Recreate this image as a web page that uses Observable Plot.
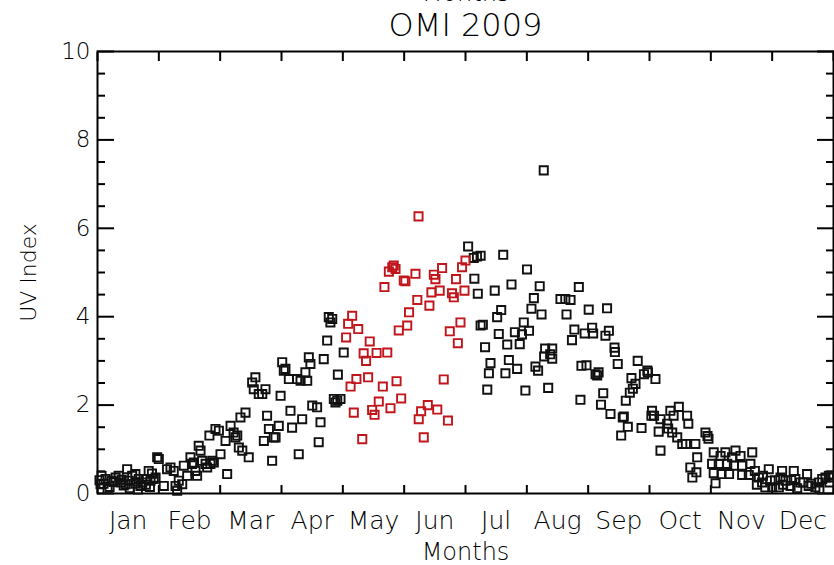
<!DOCTYPE html>
<html>
<head>
<meta charset="utf-8">
<script src="https://cdn.jsdelivr.net/npm/d3@7"></script>
<script src="https://cdn.jsdelivr.net/npm/@observablehq/plot@0.6"></script>
<style>
  html, body { margin: 0; padding: 0; background: #fff; }
  #chart svg { display: block; }
</style>
</head>
<body>
<div id="chart"></div>
<script>
// Daily OMI UV index for 2009: [day of year, UV index]
const months = ["Jan", "Feb", "Mar", "Apr", "May", "Jun", "Jul", "Aug", "Sep", "Oct", "Nov", "Dec"];
const yMajorTicks = [0, 2, 4, 6, 8, 10];
const yMinorTicks = [0.5, 1, 1.5, 2.5, 3, 3.5, 4.5, 5, 5.5, 6.5, 7, 7.5, 8.5, 9, 9.5];

// Days outside the May–June window (drawn in black)
const uvOther = [
  [1, 0.30], [1.5, 0.21], [2, 0.40], [3, 0.22], [4, 0.33], [5, 0.10], [6, 0.15], [7, 0.29], [8, 0.26],
  [9, 0.36], [10.5, 0.40], [11.4, 0.25], [12, 0.31], [13, 0.18], [14, 0.21], [14.7, 0.55], [15.5, 0.29],
  [16, 0.12], [17.2, 0.40], [18.8, 0.44], [19, 0.22], [20, 0.09], [20.5, 0.33], [21.3, 0.17], [22.2, 0.25],
  [23.8, 0.33], [24, 0.20], [25.4, 0.51], [26, 0.15], [26.3, 0.29], [27, 0.45], [27.9, 0.33], [28.8, 0.36],
  [29.6, 0.82], [30.4, 0.78],
  [32.9, 0.17], [34.5, 0.55], [36.2, 0.59], [37.8, 0.51], [38.7, 0.17], [39.5, 0.06], [40.3, 0.29],
  [42, 0.21], [42.8, 0.63], [44.5, 0.40], [46.1, 0.82], [46.9, 0.67], [47.8, 0.70], [48.6, 0.51],
  [49.4, 0.40], [50.2, 1.08], [51.1, 0.97], [51.9, 0.74], [53.6, 0.67], [54.4, 0.59], [55.5, 1.31],
  [56, 0.67], [56.9, 0.74], [57.7, 0.70], [58.5, 1.46], [60.2, 1.42], [61, 0.89], [63.5, 1.19],
  [64.3, 0.44], [66, 1.53], [67.5, 1.38], [68.4, 1.27], [69.3, 1.31], [70.1, 1.04], [70.9, 1.72],
  [71.8, 0.97], [73.4, 1.83], [75, 0.82], [76.7, 2.51], [77.5, 2.36], [78.3, 2.63], [80, 2.25],
  [81.7, 2.25], [82.5, 1.19], [83.3, 2.36], [84.1, 1.76], [85, 1.46], [86.6, 0.74], [87.4, 1.27],
  [88.3, 1.27], [89.9, 1.53], [90.8, 2.21], [91.6, 2.97], [92.4, 2.78],
  [93.2, 2.82], [94.9, 2.59], [95.7, 1.87], [96.5, 1.49], [99, 2.59], [99.8, 0.89], [100.7, 2.55],
  [101.5, 1.68], [103.1, 2.74], [104, 2.55], [104.8, 3.08], [105.6, 2.93], [106.5, 1.99], [108.9, 1.95],
  [109.7, 1.16], [110.6, 1.61], [112.2, 3.04], [113.9, 3.46], [114.7, 3.99], [115.5, 3.87], [116.4, 3.95],
  [117.2, 2.14], [118, 2.06], [118.9, 2.10], [119.2, 2.69], [120.5, 2.14], [122.1, 3.19],
  [183.8, 5.59], [186.6, 5.33], [188.2, 5.36], [190, 5.38], [186.9, 4.86], [188.6, 4.52], [190, 3.80],
  [191.1, 3.82], [192.2, 3.31], [193.3, 2.35], [194.1, 2.72], [194.9, 2.95], [197, 4.59], [198.2, 3.99],
  [199, 3.61], [200.2, 4.15], [201.2, 5.40], [202.3, 2.72], [203.2, 3.37], [204, 3.02], [205.3, 4.73],
  [207, 3.65], [208.1, 2.82], [209.4, 3.38], [210.5, 3.60], [211.4, 3.87], [212.2, 2.33], [213, 5.07],
  [214, 3.68], [215.2, 4.18], [216.4, 4.42], [217.2, 2.87], [218.5, 2.78], [219.3, 4.69], [220.2, 4.05],
  [221.3, 7.31], [221.5, 3.10], [222, 3.28], [223.5, 2.39], [224.5, 3.15], [225.5, 3.28], [225.5, 3.05],
  [229.6, 4.40], [232, 4.40], [232.6, 4.05], [234.6, 4.38], [235.3, 3.47], [236.5, 3.71], [238.7, 4.67],
  [239.5, 2.12], [240, 2.89], [241.6, 3.62], [242.5, 2.90], [243.6, 4.16], [245.3, 3.75], [245.8, 3.62],
  [247, 2.70], [247.8, 2.67], [248.5, 2.74], [249.7, 2.01], [250.8, 2.27], [251.9, 3.57], [252.7, 4.19],
  [253.6, 3.68], [254.4, 1.80], [256.4, 3.30], [256.6, 3.20], [258, 2.93], [259.7, 1.31], [260.5, 1.72],
  [261, 1.74], [262, 2.10], [263, 1.51], [264, 2.28], [264.8, 2.61], [265.5, 2.37], [266.8, 2.48],
  [267.9, 3.00], [269.8, 1.48], [271, 2.70], [272.7, 2.78], [273, 2.74], [274.7, 1.76], [276.7, 2.59],
  [275, 1.87], [276, 1.76], [278.3, 1.40], [279.2, 1.68], [279.2, 0.97], [282.5, 1.58], [283, 1.47],
  [284.1, 1.87], [285, 1.38], [285.7, 1.76], [287.5, 1.27], [288.3, 1.96], [290, 1.12], [291.8, 1.12],
  [292.4, 1.76], [293, 1.58], [294, 0.59], [295, 0.36], [296.5, 1.12], [297, 0.48], [297.4, 0.82],
  [301.5, 1.38], [302.5, 1.30], [303, 1.24], [304.8, 0.67], [305.6, 0.93], [305.6, 0.46], [306.5, 0.23],
  [308.1, 0.67], [309, 0.85], [309.5, 0.44], [311.4, 0.93], [312.3, 0.67], [313.2, 0.44], [314.7, 0.82],
  [315.6, 0.63], [316.4, 0.97], [318.9, 0.85], [319.7, 0.63], [319.7, 0.42], [323, 0.42], [323.8, 0.67],
  [324.7, 0.93], [326, 0.51], [327, 0.20], [328, 0.36], [329.6, 0.25], [330, 0.40], [331.2, 0.14],
  [332.9, 0.55], [333.8, 0.29], [334.6, 0.14], [336, 0.30], [337.9, 0.14], [338.7, 0.36], [339.5, 0.51],
  [340, 0.20], [341.2, 0.29], [343.7, 0.17], [344, 0.30], [345.3, 0.51], [346.1, 0.33], [347, 0.12],
  [348.6, 0.25], [350, 0.25], [351.9, 0.44], [352.7, 0.17], [354, 0.22], [356, 0.14], [357.7, 0.25],
  [358, 0.10], [359.4, 0.33], [361, 0.36], [362.7, 0.40], [363, 0.25], [364.3, 0.36]
];

// May–June days (drawn in red)
const uvMayJun = [
  [123.3, 3.53], [124.3, 3.84], [125.5, 2.42], [126.3, 4.02], [127.1, 1.83], [128.4, 2.59], [129.3, 3.72],
  [131.3, 1.23], [132, 3.17], [133.2, 3.00], [134.2, 2.63], [135, 3.44], [136.2, 1.89], [137.4, 1.78],
  [138.4, 3.18], [139.5, 2.08], [141.5, 2.42], [142.3, 4.67], [143.7, 3.19], [144.5, 5.02], [145.3, 1.93],
  [146.2, 5.12], [146.9, 5.16], [147.8, 5.08], [148.3, 2.54], [149.4, 3.69], [150.6, 2.15], [151.9, 4.82],
  [152.7, 4.80], [153.6, 3.80], [154.5, 4.10], [157.7, 4.97], [158.6, 4.38], [159.2, 6.27], [159.3, 1.68],
  [160.5, 1.86], [161.8, 1.27], [163.8, 2.00], [164.6, 4.25], [165.6, 4.55], [166.8, 4.95], [167.6, 4.85],
  [168.5, 1.90], [169.7, 4.59], [170.9, 5.10], [171.7, 2.58], [173.8, 1.65], [174.7, 3.67], [175.8, 4.53],
  [176.7, 4.44], [177.8, 4.85], [178.7, 3.40], [180, 3.87], [180.8, 5.12], [182, 4.59], [182.5, 5.27]
];

const toRows = (pairs) => pairs.map(([day, uv]) => ({day, uv}));
const monthLen = 365 / 12;
const monthEdges = d3.range(13).map(i => i * monthLen);
const monthMids = d3.range(12).map(i => (i + 0.5) * monthLen);
const blank = () => "";
const font = "'DejaVu Sans', 'Liberation Sans', sans-serif";
const label = {lineAnchor: "middle", textAnchor: "middle", fontWeight: 200, text: d => d};

const chart = Plot.plot({
  width: 834,
  height: 565,
  marginLeft: 97,
  marginRight: 1,
  marginTop: 51,
  marginBottom: 72,
  x: {domain: [0, 365], axis: null},
  y: {domain: [0, 10], axis: null},
  style: {fontFamily: font, background: "white", color: "black"},
  marks: [
    // inward-pointing ticks on all four sides
    Plot.axisY(yMajorTicks, {anchor: "left", tickSize: -17, tickPadding: 24, fontSize: 23, fontWeight: 200, strokeWidth: 2, label: null}),
    Plot.axisY(yMinorTicks, {anchor: "left", tickSize: -8, tickFormat: blank, strokeWidth: 2, label: null}),
    Plot.axisY(yMajorTicks, {anchor: "right", tickSize: -17, tickFormat: blank, strokeWidth: 2, label: null}),
    Plot.axisY(yMinorTicks, {anchor: "right", tickSize: -8, tickFormat: blank, strokeWidth: 2, label: null}),
    Plot.axisX(monthEdges, {anchor: "bottom", tickSize: -8, tickFormat: blank, strokeWidth: 2, label: null}),
    Plot.axisX(monthEdges, {anchor: "top", tickSize: -9, tickFormat: blank, strokeWidth: 2, label: null}),
    Plot.axisX(monthMids, {
      anchor: "bottom", tickSize: 0, tickPadding: 18, fontSize: 25, fontWeight: 200, label: null,
      tickFormat: d => months[Math.floor(d / monthLen)]
    }),
    Plot.frame({stroke: "black", strokeWidth: 2}),
    Plot.dot(toRows(uvOther), {x: "day", y: "uv", symbol: "square", r: 4.6, stroke: "#111", strokeWidth: 1.9}),
    Plot.dot(toRows(uvMayJun), {x: "day", y: "uv", symbol: "square", r: 4.6, stroke: "#c0161b", strokeWidth: 1.9}),
    // titles and axis names
    Plot.text(["Months"], {...label, frameAnchor: "top", dy: -58, fontSize: 24}),
    Plot.text(["OMI 2009"], {...label, frameAnchor: "top", dy: -26, fontSize: 32}),
    Plot.text(["Months"], {...label, frameAnchor: "bottom", dy: 59, fontSize: 24}),
    Plot.text(["UV Index"], {...label, frameAnchor: "left", dx: -69, rotate: -90, fontSize: 22})
  ]
});

document.getElementById("chart").append(chart);
</script>
</body>
</html>
